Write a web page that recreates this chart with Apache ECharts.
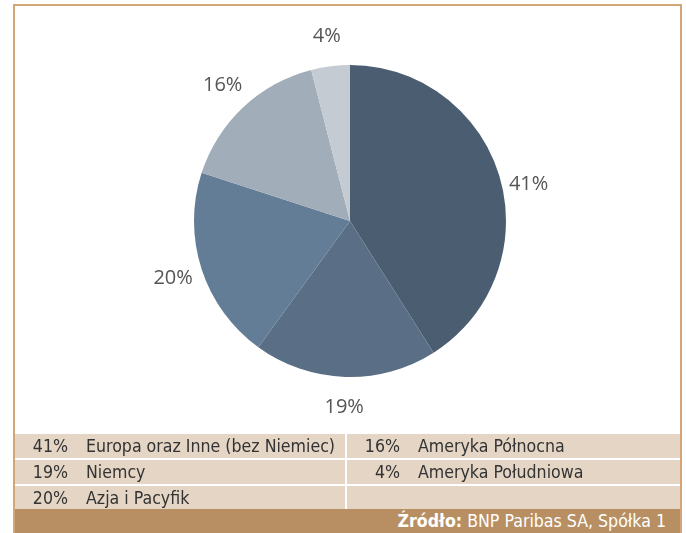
<!DOCTYPE html>
<html>
<head>
<meta charset="utf-8">
<script src="https://cdn.jsdelivr.net/npm/echarts@6/dist/echarts.min.js"></script>
<style>
    html, body { margin: 0; padding: 0; background: #fff; }
    #wrap { position: relative; width: 686px; height: 533px; overflow: hidden; }
    #frame {
        position: absolute; left: 13px; top: 4px; width: 669px; height: 540px;
        border: 2px solid #d2a678; box-sizing: border-box;
    }
    #chart { position: absolute; left: 0; top: 0; width: 686px; height: 533px; }
    #legend {
        position: absolute; left: 15px; top: 434px; width: 665px;
        font-family: "Liberation Sans Narrow", "DejaVu Sans Condensed", sans-serif;
        font-size: 17.6px; color: #333;
    }
    .row { display: flex; height: 24px; margin-bottom: 2px; }
    .cell { background: #e4d5c4; height: 24px; line-height: 24px; display: flex; }
    .cell.l { width: 330px; margin-right: 2px; }
    .cell.r { width: 333px; }
    .pct { text-align: right; width: 53px; }
    .name { padding-left: 18px; white-space: nowrap; }
    #source {
        position: absolute; left: 15px; top: 509px; width: 665px; height: 24px;
        background: #b88f62; color: #fff; text-align: right; line-height: 25px;
        font-family: "Liberation Sans Narrow", "DejaVu Sans Condensed", sans-serif;
        font-size: 17.6px; box-sizing: border-box; padding-right: 14px;
    }
</style>
</head>
<body>
<div id="wrap">
    <div id="frame"></div>
    <div id="chart"></div>
    <div id="legend"></div>
    <div id="source"><b>Źródło:</b> BNP Paribas SA, Spółka 1</div>
</div>
<script>
// dane: udział regionów
var regions = ["Europa oraz Inne (bez Niemiec)", "Niemcy", "Azja i Pacyfik", "Ameryka Północna", "Ameryka Południowa"];
var shares = [41, 19, 20, 16, 4];
var colors = ["#4b5d71", "#5a6e85", "#647d96", "#a2adba", "#c5cbd3"];
// kolejność w tabeli: lewa kolumna 0,1,2 ; prawa 3,4
var leftCol = [0, 1, 2];
var rightCol = [3, 4, null];

var myChart = echarts.init(document.getElementById("chart"));
var pieData = regions.map(function(name, i) {
    return { name: name, value: shares[i], itemStyle: { color: colors[i] } };
});
var option = {
    animation: false,
    series: [
        {
            type: "pie",
            center: [350, 221],
            radius: 156,
            startAngle: 90,
            silent: true,
            data: pieData,
            label: { show: false },
            labelLine: { show: false }
        },
        // przezroczysty pierścień tylko na etykiety
        {
            type: "pie",
            center: [350, 221],
            radius: [156, 210],
            startAngle: 90,
            silent: true,
            data: regions.map(function(name, i) {
                var d = { name: name, value: shares[i] };
                if (i === 0) d.label = { offset: [0, 15] };
                return d;
            }),
            itemStyle: { color: "rgba(0,0,0,0)" },
            label: {
                show: true,
                position: "inside",
                formatter: "{c}%",
                fontFamily: "Open Sans, Noto Sans, sans-serif",
                fontSize: 20,
                color: "#555"
            },
            labelLine: { show: false }
        }
    ]
};
myChart.setOption(option);

// tabela legendy
var legend = document.getElementById("legend");
for (var r = 0; r < 3; r++) {
    var row = document.createElement("div");
    row.className = "row";
    [leftCol[r], rightCol[r]].forEach(function(idx, c) {
        var cell = document.createElement("div");
        cell.className = "cell " + (c === 0 ? "l" : "r");
        if (idx !== null) {
            cell.innerHTML = '<span class="pct">' + shares[idx] + '%</span><span class="name">' + regions[idx] + "</span>";
        }
        row.appendChild(cell);
    });
    legend.appendChild(row);
}
</script>
</body>
</html>
